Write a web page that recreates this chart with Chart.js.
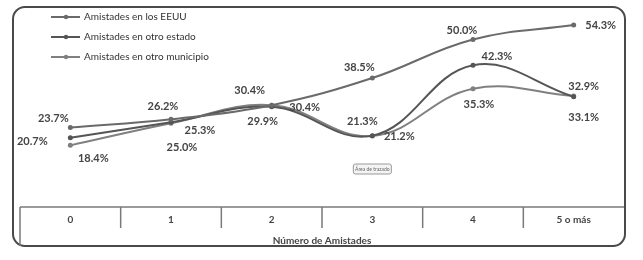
<!DOCTYPE html>
<html>
<head>
<meta charset="utf-8">
<script src="https://cdn.jsdelivr.net/npm/chart.js@4"></script>
<style>
  html, body { margin: 0; padding: 0; background: #fff; }
  #wrap { width: 643px; height: 260px; }
</style>
</head>
<body>
<div id="wrap"><canvas id="chart" width="643" height="260"></canvas></div>
<script>
const categories = ['0', '1', '2', '3', '4', '5 o más'];
const seriesNames = ['Amistades en los EEUU', 'Amistades en otro estado', 'Amistades en otro municipio'];
const eeuu = [23.7, 26.2, 30.4, 38.5, 50.0, 54.3];
const otroEstado = [20.7, 25.3, 29.9, 21.3, 42.3, 32.9];
const otroMunicipio = [18.4, 25.0, 30.4, 21.2, 35.3, 33.1];
const axisTitle = 'Número de Amistades';

// where each value label sits relative to its point
const labelOffsets = [
    [[-17, -9], [-8, -13], [-22, -15], [-13, -11], [-11, -9], [27, 0]],
    [[-38, 4], [29, 8], [-9, 15], [-10, -14], [24, -9], [10, -10]],
    [[23, 13], [11, 24], [33, 2], [27, 0], [6, 16], [10, 21]]
];
const lineColors = ['#6a6a6a', '#555555', '#808080'];
const FONT = 'Lato, "Open Sans", sans-serif';

const decorPlugin = {
    id: 'decor',
    beforeDraw(chart) {
        const ctx = chart.ctx;
        const area = chart.chartArea;
        const x = chart.scales.x;
        ctx.save();
        // outer rounded frame
        ctx.strokeStyle = '#4a4a4a';
        ctx.lineWidth = 2;
        ctx.beginPath();
        ctx.roundRect(13, 7, 612, 239, 12);
        ctx.stroke();

        // category axis box
        ctx.strokeStyle = '#7a7a7a';
        ctx.lineWidth = 1.5;
        ctx.beginPath();
        ctx.moveTo(area.left, area.bottom);
        ctx.lineTo(area.right, area.bottom);
        ctx.moveTo(area.left, area.bottom);
        ctx.lineTo(area.left, 246);
        const band = (area.right - area.left) / categories.length;
        for (let i = 1; i < categories.length; i++) {
            const bx = area.left + band * i;
            ctx.moveTo(bx, area.bottom);
            ctx.lineTo(bx, area.bottom + 21);
        }
        ctx.stroke();

        ctx.fillStyle = '#444';
        ctx.font = 'bold 10px ' + FONT;
        ctx.textAlign = 'center';
        ctx.textBaseline = 'middle';
        categories.forEach((c, i) => {
            ctx.fillText(c, x.getPixelForValue(i), area.bottom + 13);
        });
        ctx.fillText(axisTitle, (area.left + area.right) / 2, 241);

        // small "Área de trazado" tag
        const tx = x.getPixelForValue(3);
        ctx.fillStyle = '#f4f4f4';
        ctx.strokeStyle = '#999';
        ctx.lineWidth = 1;
        ctx.beginPath();
        ctx.roundRect(tx - 19, 164, 38, 10, 2);
        ctx.fill();
        ctx.stroke();
        ctx.fillStyle = '#666';
        ctx.font = '5px ' + FONT;
        ctx.fillText('Área de trazado', tx, 169.5);

        // legend
        ctx.textAlign = 'left';
        ctx.font = '10px ' + FONT;
        chart.data.datasets.forEach((ds, i) => {
            const ly = 17 + i * 20;
            ctx.strokeStyle = ds.borderColor;
            ctx.lineWidth = 2;
            ctx.beginPath();
            ctx.moveTo(51, ly);
            ctx.lineTo(80, ly);
            ctx.stroke();
            ctx.fillStyle = ds.borderColor;
            ctx.beginPath();
            ctx.arc(66, ly, 2.2, 0, Math.PI * 2);
            ctx.fill();
            ctx.fillStyle = '#333';
            ctx.fillText(ds.label, 84, ly);
        });
        ctx.restore();
    },
    afterDatasetsDraw(chart) {
        const ctx = chart.ctx;
        ctx.save();
        ctx.fillStyle = '#444';
        ctx.font = 'bold 11px ' + FONT;
        ctx.textAlign = 'center';
        ctx.textBaseline = 'middle';
        chart.data.datasets.forEach((ds, d) => {
            chart.getDatasetMeta(d).data.forEach((pt, i) => {
                const off = labelOffsets[d][i];
                ctx.fillText(ds.data[i].toFixed(1) + '%', pt.x + off[0], pt.y + off[1]);
            });
        });
        ctx.restore();
    }
};

new Chart(document.getElementById('chart'), {
    type: 'line',
    data: {
        labels: categories,
        datasets: [eeuu, otroEstado, otroMunicipio].map((vals, i) => ({
            label: seriesNames[i],
            data: vals,
            borderColor: lineColors[i],
            backgroundColor: lineColors[i],
            borderWidth: 2,
            pointRadius: 2.5,
            pointBorderWidth: 0,
            tension: 0.4,
            fill: false
        }))
    },
    options: {
        responsive: false,
        animation: false,
        layout: { padding: { left: 20, right: 19, top: 6, bottom: 53 } },
        scales: {
            x: { display: false, offset: true },
            y: { display: false, min: 0, max: 60 }
        },
        plugins: {
            legend: { display: false },
            tooltip: { enabled: false }
        }
    },
    plugins: [decorPlugin]
});
</script>
</body>
</html>
